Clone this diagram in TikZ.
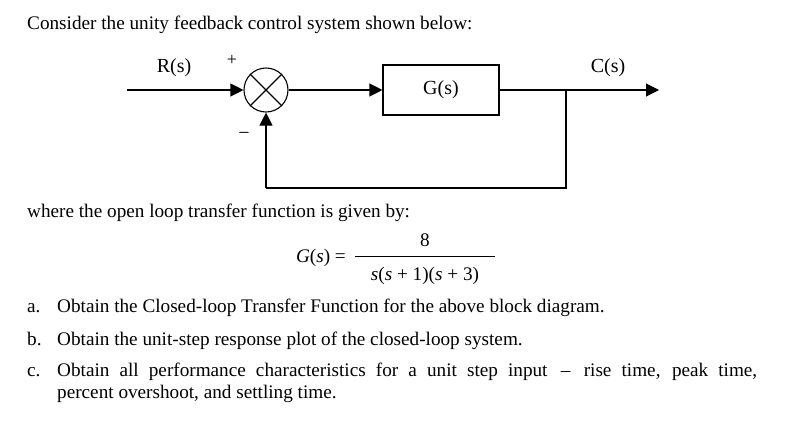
\documentclass[tikz,border=0pt]{standalone}
\usepackage{fontspec}
\setmainfont{Liberation Serif}
\usetikzlibrary{arrows.meta}
\begin{document}
\begin{tikzpicture}[x=1pt,y=-1pt,
  txt/.style={anchor=base west,inner sep=0pt,font=\fontsize{19.2}{22}\selectfont},
  lbl/.style={inner sep=0pt,font=\fontsize{20}{22}\selectfont},
  ln/.style={line width=1.1pt},
  arr/.style={ln,-{Triangle[length=13pt,width=13pt]}}]
\useasboundingbox (0,0) rectangle (790,432);
\node[txt] (t1) at (27,29) {Consider the unity feedback control system shown below:};
% block diagram
\coordinate (in) at (127,90);
\node[draw,circle,ln,minimum size=44pt,inner sep=0pt] (sum) at (266,90) {};
\draw[ln] (sum.north west) -- (sum.south east) (sum.north east) -- (sum.south west);
\node[draw,ln,minimum width=116pt,minimum height=50pt,lbl] (G) at (441,90) {G(s)};
\coordinate (br) at (566,90);
\coordinate (out) at (659,90);
\coordinate (fb1) at (566,188);
\coordinate (fb2) at (266,188);
\draw[arr] (in) -- (sum.west);
\draw[arr] (sum.east) -- (G.west);
\draw[ln] (G.east) -- (br);
\draw[arr] (br) -- (out);
\draw[ln] (br) -- (fb1) -- (fb2);
\draw[arr] (fb2) -- (sum.south);
\node[lbl] (R) at (174,68) {R(s)};
\node[lbl] (C) at (608,68) {C(s)};
\node[lbl,font=\fontsize{18}{18}\selectfont] (plus) at (232,60) {+};
\node[lbl,font=\fontsize{20}{20}\selectfont] (minus) at (244,136) {\textminus};
% text
\node[txt] (t2) at (27,217) {where the open loop transfer function is given by:};
\node[txt,anchor=base east] (geq) at (346,262) {\textit{G}(\textit{s}) =};
\draw[line width=0.8pt] (355,256) -- (495,256);
\node[txt,anchor=base] (num) at (425,246) {8};
\node[txt,anchor=base] (den) at (425,280) {\textit{s}(\textit{s} + 1)(\textit{s} + 3)};
\node[txt] (a) at (27,312) {a.};
\node[txt] (at) at (57,312) {Obtain the Closed-loop Transfer Function for the above block diagram.};
\node[txt] (b) at (27,345) {b.};
\node[txt] (bt) at (57,345) {Obtain the unit-step response plot of the closed-loop system.};
\node[txt] (c) at (27,376) {c.};
\node[txt,anchor=north west,text width=700pt,align=justify] (ct) at (57,363) {Obtain all performance characteristics for a unit step input \,--\, rise time, peak time,\linebreak percent overshoot, and settling time.};
\end{tikzpicture}
\end{document}
